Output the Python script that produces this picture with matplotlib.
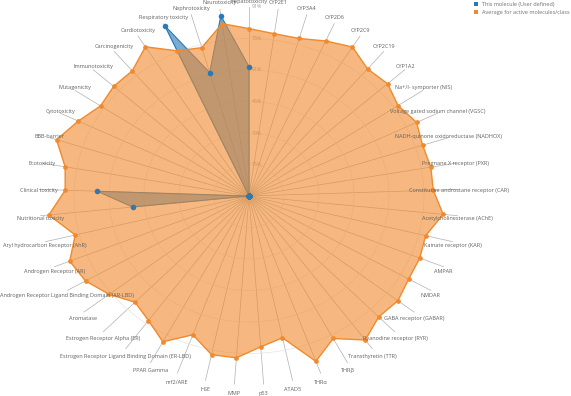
import numpy as np
import matplotlib
matplotlib.use("Agg")
import matplotlib.pyplot as plt
from matplotlib.patches import Patch

plt.rcParams['font.family'] = ['Open Sans', 'DejaVu Sans']

# Toxicity endpoints / targets, clockwise from the top
endpoints = [
    "Hepatotoxicity", "CYP2E1", "CYP3A4", "CYP2D6", "CYP2C9", "CYP2C19", "CYP1A2",
    "Na+/I- symporter (NIS)", "Voltage gated sodium channel (VGSC)",
    "NADH-quinone oxidoreductase (NADHOX)", "Pregnane X receptor (PXR)",
    "Constitutive androstane receptor (CAR)", "Acetylcholinesterase (AChE)",
    "Kainate receptor (KAR)", "AMPAR", "NMDAR", "GABA receptor (GABAR)",
    "Ryanodine receptor (RYR)", "Transthyretin (TTR)", "THRβ", "THRα", "ATAD5",
    "p53", "MMP", "HSE", "nrf2/ARE", "PPAR Gamma",
    "Estrogen Receptor Ligand Binding Domain (ER-LBD)", "Estrogen Receptor Alpha (ER)",
    "Aromatase", "Androgen Receptor Ligand Binding Domain (AR-LBD)",
    "Androgen Receptor (AR)", "Aryl hydrocarbon Receptor (AhR)",
    "Nutritional toxicity", "Clinical toxicity", "Ecotoxicity", "BBB-barrier",
    "Cytotoxicity", "Mutagenicity", "Immunotoxicity", "Carcinogenicity",
    "Cardiotoxicity", "Respiratory toxicity", "Nephrotoxicity", "Neurotoxicity",
]

# Average for active molecules/class (%)
average_active = [
    80.6, 78.9, 78.9, 81.7, 84.6, 79.9, 80.8,
    77.9, 80.8, 79.1, 80.0, 79.9, 84.6,
    78.9, 79.8, 79.9, 81.9, 80.9, 85.7, 77.7, 84.7, 69.8,
    72.8, 78.1, 78.1, 71.1, 79.5, 74.1, 71.1,
    76.9, 81.8, 83.8, 77.6,
    87.2, 79.7, 80.9, 87.7, 82.3, 77.6, 78.9, 78.7,
    84.7, 76.5, 74.3, 83.8,
]

# This molecule (user defined) (%)
this_molecule = [
    62.3, 0, 0, 0, 0, 0, 0,
    0, 0, 0, 0, 0, 0,
    0, 0, 0, 0, 0, 0, 0, 0, 0,
    0, 0, 0, 0, 0, 0, 0,
    0, 0, 0, 0,
    50.7, 65.8, 0, 0, 0, 0, 0, 0,
    0, 89.8, 61.8, 87.7,
]

r_max = 91.0
r_ticks = [15.17, 30.33, 45.5, 60.67, 75.83, 91.0]
r_tick_labels = ["15%", "30%", "45%", "61%", "75%", "91%"]

series_labels = ["This molecule (User defined)", "Average for active molecules/class"]

BLUE = "#2a7ab8"
ORANGE = "#f08a2c"

fig = plt.figure(figsize=(5.71, 3.96), dpi=100)
ax = fig.add_axes([39 / 571, 11 / 396, 420 / 571, 378 / 396], projection="polar")
ax.set_aspect("auto")
ax.set_theta_zero_location("N")
ax.set_theta_direction(-1)

n = len(endpoints)
theta = np.deg2rad(np.arange(n) * 360.0 / n)
ax.set_ylim(0, r_max)
ax.set_xticks(theta)
ax.set_xticklabels([])
ax.set_yticks(r_ticks[:-1])
ax.set_yticklabels([])
ax.xaxis.grid(True, color="#b0b0b0", lw=0.5)
ax.yaxis.grid(True, color="#e4e4e4", lw=0.5)
ax.spines["polar"].set_visible(False)
ax.set_axisbelow(True)

tt = np.append(theta, theta[0])
blue_closed = np.append(this_molecule, this_molecule[0])
orange_closed = np.append(average_active, average_active[0])

# user molecule underneath, class average on top
ax.fill(tt, blue_closed, color=BLUE, alpha=0.62, lw=0, zorder=2)
ax.plot(tt, blue_closed, color=BLUE, lw=0.8, zorder=2.1)
ax.fill(tt, orange_closed, color=ORANGE, alpha=0.6, lw=0, zorder=3)
ax.plot(tt, orange_closed, color=ORANGE, lw=1.0, zorder=3.1)
ax.plot(theta, average_active, "o", color=ORANGE, ms=3.4, mew=0, zorder=3.2)
ax.plot(theta, this_molecule, "o", color=BLUE, ms=4.0, mew=0, zorder=4)

# radial tick labels along the top spoke
for v, lbl in zip(r_ticks, r_tick_labels):
    ax.annotate(lbl, xy=(0, v), xytext=(3, 0), textcoords="offset pixels",
                ha="left", va="center", fontsize=3.8, color="#a0a0a0",
                zorder=1.5, annotation_clip=False)

# endpoint labels beyond the outer ring
for th, name in zip(theta, endpoints):
    dy = 7.5 * np.cos(th) - 1.5
    ax.annotate(name, xy=(th, r_max), xytext=(0, dy), textcoords="offset pixels",
                ha="center", va="center", fontsize=3.95, color="#606060",
                zorder=5, annotation_clip=False)

handles = [Patch(facecolor=BLUE, edgecolor="none"), Patch(facecolor=ORANGE, edgecolor="none")]
fig.legend(handles, series_labels, loc="upper left",
           bbox_to_anchor=(474 / 571, 1 - 2 / 396), frameon=False,
           fontsize=4.0, handlelength=0.75, handleheight=0.75,
           handletextpad=0.6, labelspacing=0.5, borderpad=0, borderaxespad=0,
           labelcolor="#707070")

fig.savefig("out.png", dpi=100)
